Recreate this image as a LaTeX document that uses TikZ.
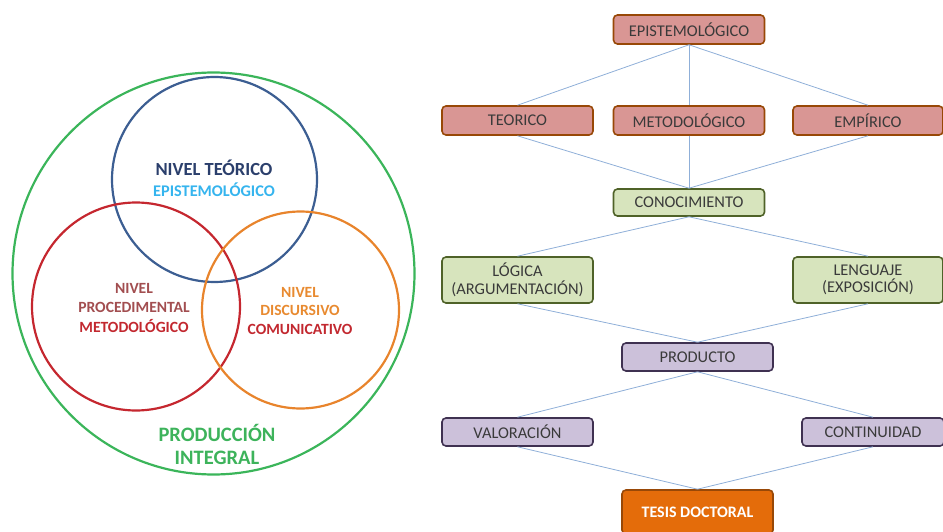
\documentclass[tikz,border=0pt]{standalone}
\usepackage{fontspec}
\setmainfont{Carlito}
\definecolor{cgreen}{HTML}{3BB55A}
\definecolor{cblue}{HTML}{3C5E92}
\definecolor{cred}{HTML}{C5272F}
\definecolor{corange}{HTML}{E8842C}
\definecolor{tnavy}{HTML}{2B3F6C}
\definecolor{tsky}{HTML}{35B4EE}
\definecolor{trose}{HTML}{A24E50}
\definecolor{tred}{HTML}{C2282F}
\definecolor{torange}{HTML}{E88A30}
\definecolor{tgreen}{HTML}{3DB35B}
\definecolor{lnk}{HTML}{8FAFD8}
\definecolor{rfill}{HTML}{D99694}
\definecolor{rdraw}{HTML}{984807}
\definecolor{gfill}{HTML}{D7E4BD}
\definecolor{gdraw}{HTML}{4F6228}
\definecolor{pfill}{HTML}{CCC1DA}
\definecolor{pdraw}{HTML}{3F3151}
\definecolor{ofill}{HTML}{E46C0A}
\definecolor{odraw}{HTML}{984807}
\definecolor{btext}{HTML}{3A3A3A}
\begin{document}
\begin{tikzpicture}[x=1pt,y=-1pt,
  ring/.style={circle,draw,line width=2.2pt,inner sep=0pt},
  lbl/.style={font=\bfseries\fontsize{15.6}{18}\selectfont,align=center,inner sep=0pt},
  box/.style={rectangle,rounded corners=4pt,line width=1.6pt,minimum width=151pt,minimum height=29pt,
    inner sep=1pt,align=center,text=btext,font=\fontsize{16.4}{17.5}\selectfont},
  rbox/.style={box,fill=rfill,draw=rdraw},
  gbox/.style={box,fill=gfill,draw=gdraw},
  pbox/.style={box,fill=pfill,draw=pdraw},
  obox/.style={box,fill=ofill,draw=odraw,text=white},
  link/.style={draw=lnk,line width=0.8pt}]
\useasboundingbox (0,0) rectangle (943,532);
% Venn part
\node[ring,draw=cgreen,minimum size=402pt] (prod) at (213.5,273.5) {};
\node[ring,draw=cblue,minimum size=205pt] (teo) at (214.5,179.5) {};
\node[ring,draw=cred,minimum size=208pt] (proc) at (136,306.5) {};
\node[ring,draw=corange,minimum size=197pt] (disc) at (300.5,310) {};
\node[lbl,text=tnavy,font=\bfseries\fontsize{18.5}{20}\selectfont] (t1) at (214,168) {NIVEL TEÓRICO};
\node[lbl,text=tsky,font=\bfseries\fontsize{16.3}{18}\selectfont] (t2) at (214,190) {EPISTEMOLÓGICO};
\node[lbl,text=trose] (p1) at (134,288) {NIVEL};
\node[lbl,text=trose] (p2) at (134,307) {PROCEDIMENTAL};
\node[lbl,text=tred] (p3) at (134,326) {METODOLÓGICO};
\node[lbl,text=torange] (d1) at (300,292) {NIVEL};
\node[lbl,text=torange] (d2) at (300,310) {DISCURSIVO};
\node[lbl,text=tred] (d3) at (300,329) {COMUNICATIVO};
\node[lbl,text=tgreen,font=\bfseries\fontsize{20.5}{24}\selectfont] (g1) at (217,433) {PRODUCCIÓN};
\node[lbl,text=tgreen,font=\bfseries\fontsize{20.5}{24}\selectfont] (g2) at (217,458) {INTEGRAL};
% Flow part
\node[rbox] (epi) at (689,29.5) {EPISTEMOLÓGICO};
\node[rbox] (teor) at (517.5,120.5) {TEORICO};
\node[rbox] (met) at (689,120.5) {METODOLÓGICO};
\node[rbox,minimum width=150pt] (emp) at (868,120.5) {EMPÍRICO};
\node[gbox,minimum height=27pt] (con) at (689,202.5) {CONOCIMIENTO};
\node[gbox,minimum height=46pt] (log) at (517.5,280) {LÓGICA\\(ARGUMENTACIÓN)};
\node[gbox,minimum height=46pt,minimum width=150pt] (len) at (868,280) {LENGUAJE\\(EXPOSICIÓN)};
\node[pbox,minimum height=28pt] (pro) at (697.5,357) {PRODUCTO};
\node[pbox,minimum height=28pt] (val) at (517.5,432) {VALORACIÓN};
\node[pbox,minimum height=28pt,minimum width=142pt] (cont) at (873,432) {CONTINUIDAD};
\node[obox,minimum height=44pt,font=\bfseries\fontsize{16}{17}\selectfont] (tes) at (697.5,512) {TESIS DOCTORAL};
\path[link] (epi.south) -- (teor.north);
\path[link] (epi.south) -- (met.north);
\path[link] (epi.south) -- (emp.north);
\path[link] (teor.south) -- (con.north);
\path[link] (met.south) -- (con.north);
\path[link] (emp.south) -- (con.north);
\path[link] (con.south) -- (log.north);
\path[link] (con.south) -- (len.north);
\path[link] (log.south) -- (pro.north);
\path[link] (len.south) -- (pro.north);
\path[link] (pro.south) -- (val.north);
\path[link] (pro.south) -- (cont.north);
\path[link] (val.south) -- (tes.north);
\path[link] (cont.south) -- (tes.north);
\end{tikzpicture}
\end{document}
